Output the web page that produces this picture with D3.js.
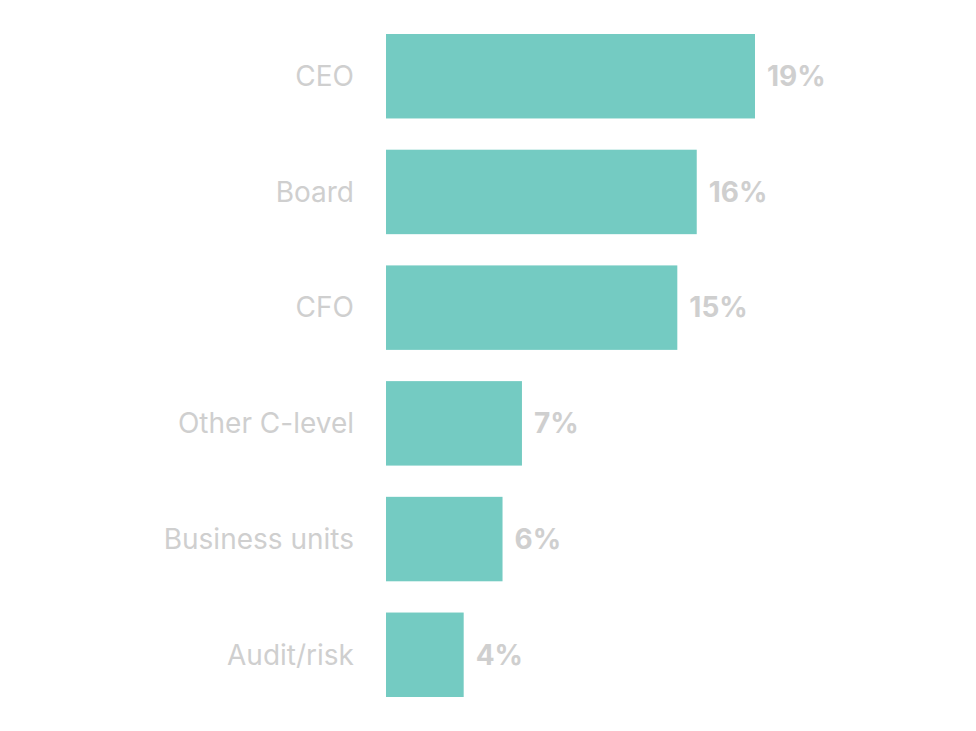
<!DOCTYPE html>
<html><head><meta charset="utf-8">
<script src="https://cdn.jsdelivr.net/npm/d3@7"></script>
<style>body{margin:0;background:#fff}</style>
</head><body>
<svg id="c" width="976" height="731"></svg>
<script>
const categories = ["CEO","Board","CFO","Other C-level","Business units","Audit/risk"];
const values = [19,16,15,7,6,4];

const svg = d3.select("#c");
const x = d3.scaleLinear().domain([0,19]).range([386,755]);
const y = d3.scaleBand().domain(categories).range([34,697]).paddingInner(0.27).paddingOuter(0);

const g = svg.selectAll("g.row").data(categories).enter().append("g");
g.append("rect")
  .attr("x", x(0))
  .attr("y", d => y(d))
  .attr("width", (d,i) => x(values[i]) - x(0))
  .attr("height", y.bandwidth())
  .attr("fill", "#74cbc2");
g.append("text")
  .attr("x", 354)
  .attr("y", d => y(d) + y.bandwidth()/2)
  .attr("dy", "0.35em")
  .attr("text-anchor", "end")
  .attr("font-family", "Inter, sans-serif")
  .attr("font-size", 28)
  .attr("fill", "#cfcfcf")
  .text(d => d);
g.append("text")
  .attr("x", (d,i) => x(values[i]) + 12)
  .attr("y", d => y(d) + y.bandwidth()/2)
  .attr("dy", "0.35em")
  .attr("font-family", "Inter, sans-serif")
  .attr("font-weight", 700)
  .attr("font-size", 28)
  .attr("fill", "#cfcfcf")
  .text((d,i) => values[i] + "%");
</script>
</body></html>
